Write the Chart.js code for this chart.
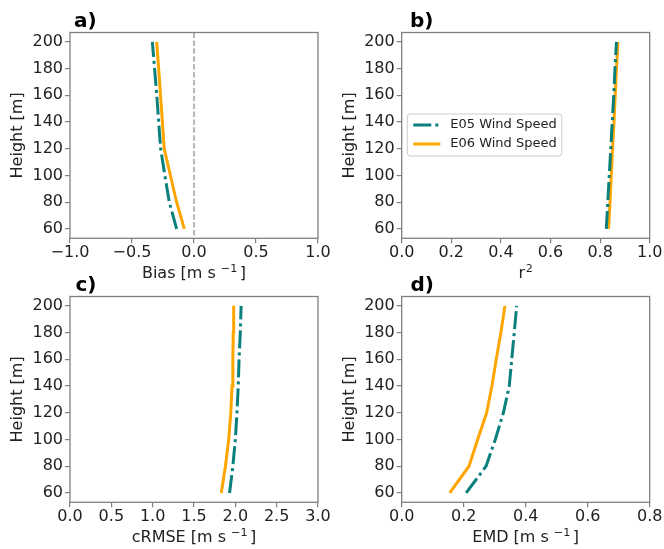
<!DOCTYPE html>
<html>
<head>
<meta charset="utf-8">
<script src="https://cdn.jsdelivr.net/npm/chart.js@4"></script>
<style>
  html, body { margin: 0; padding: 0; background: #ffffff; }
  #wrap { position: relative; width: 664px; height: 549px; }
  #wrap canvas { position: absolute; left: 0; top: 0; }
</style>
</head>
<body>
<div id="wrap">
  <canvas id="biasChart" width="664" height="549"></canvas>
  <canvas id="r2Chart" width="664" height="549"></canvas>
  <canvas id="crmseChart" width="664" height="549"></canvas>
  <canvas id="emdChart" width="664" height="549"></canvas>
</div>
<script>
// Measurement heights (m) and y tick labels
const heights = [60, 80, 100, 120, 140, 160, 180, 200];
const heightTicks = [60, 80, 100, 120, 140, 160, 180, 200];
const heightRange = [53, 207];

const seriesLabels = ['E05 Wind Speed', 'E06 Wind Speed'];

// a) Bias [m s-1]
const biasE05 = [-0.140, -0.199, -0.235, -0.269, -0.285, -0.300, -0.318, -0.336];
const biasE06 = [-0.078, -0.140, -0.190, -0.240, -0.255, -0.270, -0.285, -0.301];
const biasTicks = [-1, -0.5, 0, 0.5, 1];

// b) r2
const r2E05 = [0.825, 0.831, 0.837, 0.843, 0.849, 0.855, 0.860, 0.866];
const r2E06 = [0.834, 0.840, 0.845, 0.850, 0.856, 0.861, 0.866, 0.872];
const r2Ticks = [0, 0.2, 0.4, 0.6, 0.8, 1];

// c) cRMSE [m s-1]
const crmseE05 = [1.93, 1.97, 2.00, 2.02, 2.035, 2.045, 2.06, 2.07];
const crmseE06 = [1.83, 1.88, 1.92, 1.945, 1.96, 1.97, 1.975, 1.98];
const crmseTicks = [0, 0.5, 1, 1.5, 2, 2.5, 3];

// d) EMD [m s-1]
const emdE05 = [0.208, 0.272, 0.302, 0.328, 0.347, 0.355, 0.363, 0.371];
const emdE06 = [0.155, 0.217, 0.245, 0.274, 0.291, 0.305, 0.320, 0.333];
const emdTicks = [0, 0.2, 0.4, 0.6, 0.8];

const TEAL = '#0a807c';
const ORANGE = '#ffa500';
const SPINE = '#808080';
const TEXT = '#222222';
const FONT = "'DejaVu Sans', sans-serif";

Chart.defaults.font.family = FONT;

// frame around the plot area (matplotlib spines)
const framePlugin = {
  id: 'frame',
  afterDraw(chart) {
    const { ctx, chartArea: a } = chart;
    ctx.save();
    ctx.strokeStyle = SPINE;
    ctx.lineWidth = 1.3;
    ctx.strokeRect(a.left, a.top, a.right - a.left, a.bottom - a.top);
    ctx.restore();
  }
};

// bold "a)" style labels
const panelLabelPlugin = {
  id: 'panelLabel',
  afterDraw(chart, args, opts) {
    if (!opts.text) return;
    const ctx = chart.ctx;
    ctx.save();
    ctx.font = 'bold 20px ' + FONT;
    ctx.fillStyle = '#000';
    ctx.textBaseline = 'alphabetic';
    ctx.fillText(opts.text, opts.x, opts.y);
    ctx.restore();
  }
};

// x axis title with a real superscript part
const xTitlePlugin = {
  id: 'xTitle',
  afterDraw(chart, args, opts) {
    if (!opts.parts) return;
    const { ctx, chartArea: a } = chart;
    ctx.save();
    ctx.fillStyle = TEXT;
    ctx.textBaseline = 'alphabetic';
    const fontFor = p => (p.sup ? '11.2px ' : '16px ') + FONT;
    let total = 0;
    opts.parts.forEach(p => {
      if (p.gap) { total += p.gap; return; }
      ctx.font = fontFor(p);
      total += ctx.measureText(p.t).width;
    });
    let x = (a.left + a.right) / 2 - total / 2;
    const base = a.bottom + 39.4;
    ctx.textAlign = 'left';
    opts.parts.forEach(p => {
      if (p.gap) { x += p.gap; return; }
      ctx.font = fontFor(p);
      ctx.fillText(p.t, x, p.sup ? base - 5.6 : base);
      x += ctx.measureText(p.t).width;
    });
    ctx.restore();
  }
};

// dashed vertical line at a given x value
const vLinePlugin = {
  id: 'vLine',
  beforeDatasetsDraw(chart, args, opts) {
    if (opts.value === undefined) return;
    const { ctx, chartArea: a, scales } = chart;
    const x = scales.x.getPixelForValue(opts.value);
    ctx.save();
    ctx.strokeStyle = '#a0a0a0';
    ctx.lineWidth = 1.5;
    ctx.setLineDash([5.5, 2.4]);
    ctx.beginPath();
    ctx.moveTo(x, a.top);
    ctx.lineTo(x, a.bottom);
    ctx.stroke();
    ctx.restore();
  }
};

// legend box drawn inside the plot area
const boxLegendPlugin = {
  id: 'boxLegend',
  afterDraw(chart, args, opts) {
    if (!opts.show) return;
    const ctx = chart.ctx;
    const { x, y, w, h } = opts;
    ctx.save();
    ctx.fillStyle = 'rgba(255,255,255,0.8)';
    ctx.strokeStyle = '#cccccc';
    ctx.lineWidth = 1;
    ctx.beginPath();
    ctx.roundRect(x, y, w, h, 3);
    ctx.fill();
    ctx.stroke();
    ctx.font = '13px ' + FONT;
    ctx.textBaseline = 'middle';
    chart.data.datasets.forEach((ds, i) => {
      const rowY = y + 11 + i * 19;
      ctx.strokeStyle = ds.borderColor;
      ctx.lineWidth = ds.borderWidth;
      ctx.setLineDash(ds.borderDash || []);
      ctx.beginPath();
      ctx.moveTo(x + 6, rowY);
      ctx.lineTo(x + 33, rowY);
      ctx.stroke();
      ctx.setLineDash([]);
      ctx.fillStyle = TEXT;
      ctx.fillText(ds.label, x + 43, rowY);
    });
    ctx.restore();
  }
};

function toPoints(values) {
  return values.map((v, i) => ({ x: v, y: heights[i] }));
}

function fmtTick(v) {
  return v.toFixed(1).replace('-', '\u2212');
}

function unitParts(name) {
  return [{ t: name + ' [m s' }, { gap: 5 }, { t: '\u22121', sup: true }, { gap: 2.5 }, { t: ']' }];
}

function makePanel(id, p) {
  const ctx = document.getElementById(id).getContext('2d');
  return new Chart(ctx, {
    type: 'scatter',
    data: {
      datasets: [
        {
          label: seriesLabels[0],
          data: toPoints(p.e05),
          showLine: true,
          borderColor: TEAL,
          borderWidth: 3,
          borderDash: [18, 4, 3, 4],
          borderCapStyle: 'butt',
          pointRadius: 0,
          tension: 0
        },
        {
          label: seriesLabels[1],
          data: toPoints(p.e06),
          showLine: true,
          borderColor: ORANGE,
          borderWidth: 3,
          borderCapStyle: 'butt',
          pointRadius: 0,
          tension: 0
        }
      ]
    },
    options: {
      responsive: false,
      animation: false,
      events: [],
      layout: {
        padding: {
          left: p.left,
          top: p.top,
          right: 664 - (p.left + 70 + 248),
          bottom: 549 - (p.top + 205.8 + 45)
        }
      },
      plugins: {
        legend: { display: false },
        tooltip: { enabled: false },
        panelLabel: p.label,
        xTitle: { parts: p.xTitle },
        vLine: { value: p.zeroLine },
        boxLegend: p.legend || { show: false }
      },
      scales: {
        x: {
          type: 'linear',
          min: p.ticks[0],
          max: p.ticks[p.ticks.length - 1],
          afterBuildTicks: scale => { scale.ticks = p.ticks.map(v => ({ value: v })); },
          afterFit: scale => { scale.height = 45; },
          border: { display: false },
          grid: { drawOnChartArea: false, tickLength: 5, color: SPINE, lineWidth: 1.2 },
          ticks: {
            autoSkip: false, maxRotation: 0, padding: 0,
            color: TEXT, font: { size: 16 },
            callback: v => fmtTick(v)
          },
          title: { display: false }
        },
        y: {
          type: 'linear',
          min: heightRange[0],
          max: heightRange[1],
          afterBuildTicks: scale => { scale.ticks = heightTicks.map(v => ({ value: v })); },
          afterFit: scale => { scale.width = 70; },
          border: { display: false },
          grid: { drawOnChartArea: false, tickLength: 5, color: SPINE, lineWidth: 1.2 },
          ticks: { padding: 2, color: TEXT, font: { size: 16 } },
          title: {
            display: true, text: 'Height [m]', color: TEXT,
            font: { size: 16 }, padding: { top: 8.5, bottom: 0 }
          }
        }
      }
    },
    plugins: [framePlugin, panelLabelPlugin, xTitlePlugin, vLinePlugin, boxLegendPlugin]
  });
}

makePanel('biasChart', {
  e05: biasE05, e06: biasE06, ticks: biasTicks,
  xTitle: unitParts('Bias'),
  left: 0, top: 32.5,
  zeroLine: 0,
  label: { text: 'a)', x: 74, y: 26.5 }
});

makePanel('r2Chart', {
  e05: r2E05, e06: r2E06, ticks: r2Ticks,
  xTitle: [{ t: 'r' }, { gap: 0.5 }, { t: '2', sup: true }],
  left: 331.7, top: 32.5,
  label: { text: 'b)', x: 410, y: 26.5 },
  legend: { show: true, x: 407.3, y: 114, w: 154.5, h: 42 }
});

makePanel('crmseChart', {
  e05: crmseE05, e06: crmseE06, ticks: crmseTicks,
  xTitle: unitParts('cRMSE'),
  left: 0, top: 296.5,
  label: { text: 'c)', x: 75.5, y: 290.5 }
});

makePanel('emdChart', {
  e05: emdE05, e06: emdE06, ticks: emdTicks,
  xTitle: unitParts('EMD'),
  left: 331.7, top: 296.5,
  label: { text: 'd)', x: 410.5, y: 290.5 }
});
</script>
</body>
</html>
